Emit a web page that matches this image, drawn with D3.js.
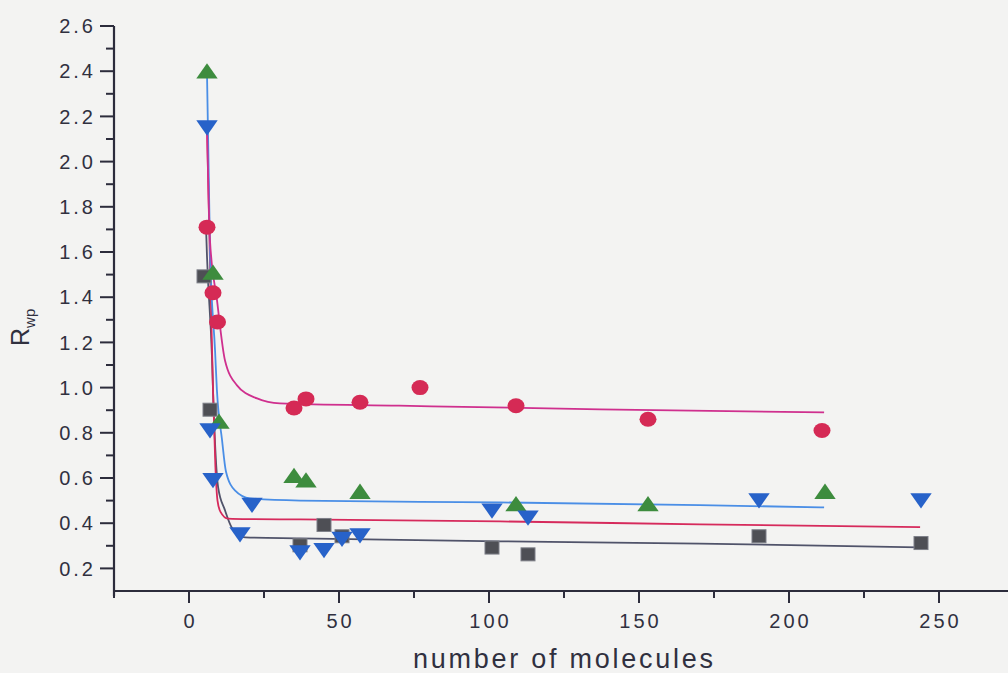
<!DOCTYPE html>
<html>
<head>
<meta charset="utf-8">
<script src="https://cdn.jsdelivr.net/npm/d3@7"></script>
<style>
  html, body { margin: 0; padding: 0; background: #f3f3f2; }
  svg { display: block; }
  text { font-family: "Liberation Sans", Arial, sans-serif; fill: #30303f; }
</style>
</head>
<body>
<svg id="chart" width="1008" height="673"></svg>
<script>
// Tick values
const xTickValues = [0, 50, 100, 150, 200, 250];
const xMinorValues = [-25, 25, 75, 125, 175, 225, 275];
const yTickValues = [0.2, 0.4, 0.6, 0.8, 1.0, 1.2, 1.4, 1.6, 1.8, 2.0, 2.2, 2.4, 2.6];
const yMinorValues = [0.3, 0.5, 0.7, 0.9, 1.1, 1.3, 1.5, 1.7, 1.9, 2.1, 2.3, 2.5];

// Measured R_wp against number of molecules, one pair of arrays per series
const circleX = [6, 8, 9.5, 35, 39, 57, 77, 109, 153, 211];
const circleY = [1.71, 1.42, 1.29, 0.91, 0.95, 0.935, 1.0, 0.92, 0.86, 0.81];

const squareX = [5, 7, 37, 45, 51, 101, 113, 190, 244];
const squareY = [1.49, 0.90, 0.30, 0.39, 0.34, 0.29, 0.26, 0.34, 0.31];

const upX = [6, 8, 10, 35, 39, 57, 109, 153, 212];
const upY = [2.39, 1.50, 0.84, 0.60, 0.58, 0.53, 0.475, 0.475, 0.53];

const downX = [6, 7, 8, 17, 21, 37, 45, 51, 57, 101, 113, 190, 244];
const downY = [2.16, 0.82, 0.60, 0.36, 0.49, 0.28, 0.29, 0.34, 0.355, 0.465, 0.434, 0.51, 0.51];

// Decay fit curves, sampled along each fitted line
const circleFitX = [6, 7, 9.3, 12, 16, 22.7, 30.3, 70, 137, 211.7];
const circleFitY = [2.16, 1.65, 1.39, 1.12, 1.01, 0.952, 0.93, 0.92, 0.904, 0.89];

const upFitX = [6, 7, 8.7, 9.3, 11, 12.3, 15.3, 20.3, 37, 103.7, 170.3, 211.7];
const upFitY = [2.39, 1.61, 1.16, 0.99, 0.77, 0.63, 0.545, 0.51, 0.50, 0.492, 0.48, 0.47];

const downFitX = [6, 7, 8, 8.8, 9.5, 10.5, 13, 20, 37, 103.7, 170.3, 243.7];
const downFitY = [2.16, 1.55, 0.99, 0.65, 0.50, 0.45, 0.42, 0.418, 0.417, 0.408, 0.395, 0.383];

const squareFitX = [5.7, 6, 7.7, 8, 9.7, 12, 14.3, 18.7, 37, 103.7, 170.3, 243.7];
const squareFitY = [1.70, 1.58, 1.12, 0.99, 0.56, 0.457, 0.38, 0.337, 0.333, 0.32, 0.31, 0.293];

const svg = d3.select("#chart");

const x = d3.scaleLinear().domain([-25, 275]).range([114, 1014]);
const y = d3.scaleLinear().domain([0.1, 2.6]).range([591, 26]);

const axisColor = "#2c2c3c";

// Y axis: major ticks labelled, minor ticks in between
const yAxis = svg.append("g").attr("transform", `translate(${x(-25)},0)`);
yAxis.append("line")
  .attr("x1", 0).attr("x2", 0)
  .attr("y1", y(2.6)).attr("y2", y(0.1) + 5)
  .attr("stroke", axisColor).attr("stroke-width", 2.2);
yAxis.selectAll("line.major").data(yTickValues).join("line")
  .attr("class", "major")
  .attr("x1", -14).attr("x2", 0)
  .attr("y1", d => y(d)).attr("y2", d => y(d))
  .attr("stroke", axisColor).attr("stroke-width", 2);
yAxis.selectAll("line.minor").data(yMinorValues).join("line")
  .attr("class", "minor")
  .attr("x1", -8).attr("x2", 0)
  .attr("y1", d => y(d)).attr("y2", d => y(d))
  .attr("stroke", axisColor).attr("stroke-width", 2);
yAxis.selectAll("text").data(yTickValues).join("text")
  .attr("x", -18)
  .attr("y", d => y(d))
  .attr("dy", "0.36em")
  .attr("text-anchor", "end")
  .style("font-size", "20px")
  .style("letter-spacing", "3px")
  .text(d => d3.format(".1f")(d));

// X axis
const xAxis = svg.append("g").attr("transform", `translate(0,${y(0.1)})`);
xAxis.append("line")
  .attr("x1", x(-25)).attr("x2", 1008)
  .attr("y1", 0).attr("y2", 0)
  .attr("stroke", axisColor).attr("stroke-width", 2.2);
xAxis.selectAll("line.major").data(xTickValues).join("line")
  .attr("class", "major")
  .attr("x1", d => x(d)).attr("x2", d => x(d))
  .attr("y1", 0).attr("y2", 12)
  .attr("stroke", axisColor).attr("stroke-width", 2);
xAxis.selectAll("line.minor").data(xMinorValues).join("line")
  .attr("class", "minor")
  .attr("x1", d => x(d)).attr("x2", d => x(d))
  .attr("y1", 0).attr("y2", 7)
  .attr("stroke", axisColor).attr("stroke-width", 2);
xAxis.selectAll("text").data(xTickValues).join("text")
  .attr("x", d => x(d) + 1.5)
  .attr("y", 37)
  .attr("text-anchor", "middle")
  .style("font-size", "20px")
  .style("letter-spacing", "3px")
  .text(d => d);

// Axis titles
svg.append("text")
  .attr("x", 563).attr("y", 668)
  .attr("text-anchor", "middle")
  .attr("textLength", 300)
  .attr("lengthAdjust", "spacing")
  .style("font-size", "27px")
  .text("number of molecules");

const yTitle = svg.append("text")
  .attr("transform", "translate(29,346) rotate(-90)")
  .style("font-size", "25px");
yTitle.append("tspan").text("R");
yTitle.append("tspan")
  .attr("dy", 6)
  .style("font-size", "15px")
  .text("wp");

// Fit curves
const line = d3.line()
  .x(d => x(d[0]))
  .y(d => y(d[1]))
  .curve(d3.curveMonotoneX);

const fits = [
  { xs: squareFitX, ys: squareFitY, color: "#50536a" },
  { xs: downFitX, ys: downFitY, color: "#d62a5c" },
  { xs: upFitX, ys: upFitY, color: "#4a8ee6" },
  { xs: circleFitX, ys: circleFitY, color: "#cf2f8e" }
];
svg.append("g").selectAll("path").data(fits).join("path")
  .attr("d", f => line(d3.zip(f.xs, f.ys)))
  .attr("fill", "none")
  .attr("stroke", f => f.color)
  .attr("stroke-width", 1.8);

// Markers
const markers = svg.append("g");

markers.selectAll("rect").data(d3.zip(squareX, squareY)).join("rect")
  .attr("x", d => x(d[0]) - 7)
  .attr("y", d => y(d[1]) - 7)
  .attr("width", 14).attr("height", 13)
  .attr("fill", "#4e4f55")
  .attr("stroke", "#7d7f88")
  .attr("stroke-width", 1);

const tri = d3.symbol().type(d3.symbolTriangle).size(150);

markers.selectAll("path.up").data(d3.zip(upX, upY)).join("path")
  .attr("class", "up")
  .attr("d", tri)
  .attr("transform", d => `translate(${x(d[0])},${y(d[1])}) scale(1.15,0.95)`)
  .attr("fill", "#3d8c3e");

markers.selectAll("path.down").data(d3.zip(downX, downY)).join("path")
  .attr("class", "down")
  .attr("d", tri)
  .attr("transform", d => `translate(${x(d[0])},${y(d[1])}) rotate(180) scale(1.15,0.95)`)
  .attr("fill", "#2762c9");

markers.selectAll("ellipse").data(d3.zip(circleX, circleY)).join("ellipse")
  .attr("cx", d => x(d[0]))
  .attr("cy", d => y(d[1]))
  .attr("rx", 8.5).attr("ry", 7.5)
  .attr("fill", "#d52a55");
</script>
</body>
</html>
